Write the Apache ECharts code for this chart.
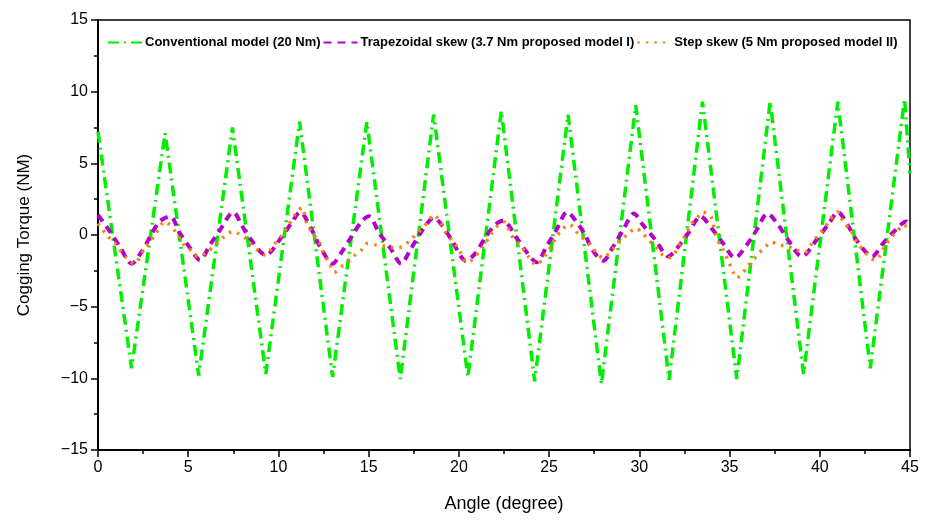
<!DOCTYPE html>
<html>
<head>
<meta charset="utf-8">
<script src="https://cdn.jsdelivr.net/npm/echarts@6/dist/echarts.min.js"></script>
<style>html,body{margin:0;padding:0;background:#fff}#c{width:931px;height:521px}</style>
</head>
<body>
<div id="c"></div>
<script>
// Conventional model (20 Nm): peaks and troughs
const convX = [0, 1.86, 3.72, 5.58, 7.45, 9.3, 11.17, 13.0, 14.9, 16.75, 18.6, 20.5, 22.35, 24.2, 26.05, 27.9, 29.8, 31.65, 33.5, 35.4, 37.25, 39.1, 41.0, 42.8, 44.7, 45];
const convY = [7.2, -9.3, 7.1, -9.8, 7.5, -9.7, 7.9, -9.9, 7.9, -10.05, 8.4, -9.9, 8.65, -10.2, 8.4, -10.4, 9.05, -10.1, 9.3, -10.05, 9.3, -9.7, 9.3, -9.3, 9.5, 4.3];

// Trapezoidal skew (3.7 Nm proposed model I)
const trapX = [0, 0.67, 1.2, 1.87, 2.4, 2.9, 3.4, 4.0, 4.55, 5.1, 5.65, 6.2, 6.76, 7.5, 7.96, 8.4, 9.3, 10.2, 10.7, 11.2, 11.85, 12.3, 13.0, 13.5, 14.06, 14.6, 15.0, 15.6, 16.2, 16.8, 17.3, 17.85, 18.4, 18.6, 19.05, 19.6, 20.4, 20.9, 21.45, 22.0, 22.45, 23.2, 23.76, 24.3, 24.9, 25.4, 26.0, 26.44, 27.0, 27.4, 28.0, 28.55, 29.1, 29.7, 30.2, 30.9, 31.6, 32.1, 32.7, 33.4, 34.0, 34.65, 35.3, 35.95, 36.5, 37.1, 37.7, 38.25, 39.0, 39.9, 40.5, 41.0, 41.6, 42.1, 42.9, 43.5, 44.2, 44.8, 45];
const trapY = [1.4, 0.23, -0.8, -2.0, -1.2, -0.1, 0.93, 1.3, 0.1, -0.9, -1.75, -0.7, 0.35, 1.6, 0.7, -0.2, -1.4, -0.1, 0.8, 1.6, 0.35, -0.8, -2.0, -1.2, -0.1, 0.93, 1.3, 0.1, -0.9, -2.0, -1.05, 0.1, 1.05, 1.2, 0.7, -0.35, -1.8, -1.3, -0.2, 0.7, 1.0, -0.2, -1.2, -1.9, -0.7, 0.35, 1.6, 1.05, 0.0, -1.05, -1.8, -0.8, 0.35, 1.5, 0.7, -0.35, -1.5, -0.9, 0.1, 1.3, 0.47, -0.6, -1.6, -0.7, 0.35, 1.5, 0.7, -0.35, -1.5, -0.2, 0.8, 1.6, 0.58, -0.47, -1.5, -0.6, 0.35, 0.95, 0.7];

// Step skew (5 Nm proposed model II)
const stepX = [0, 0.55, 0.95, 1.5, 2.0, 2.6, 3.16, 3.7, 4.36, 4.7, 5.3, 5.5, 5.9, 6.6, 7.0, 7.5, 7.77, 8.15, 8.5, 9.0, 9.26, 9.8, 10.2, 10.46, 10.9, 11.3, 11.57, 11.85, 12.3, 12.5, 12.8, 13.1, 13.5, 13.86, 14.25, 14.6, 14.9, 15.45, 16.0, 16.5, 16.9, 17.3, 17.6, 17.95, 18.3, 18.6, 18.96, 19.3, 19.7, 19.95, 20.2, 20.4, 20.7, 21.3, 21.8, 22.2, 22.5, 22.9, 23.3, 23.6, 23.85, 24.3, 24.6, 24.9, 25.2, 25.45, 25.7, 25.98, 26.3, 26.6, 27.0, 27.3, 27.6, 28.0, 28.3, 28.66, 29.0, 29.4, 29.8, 30.1, 30.5, 30.9, 31.2, 31.6, 31.9, 32.15, 32.4, 32.6, 32.9, 33.2, 33.5, 34.0, 34.2, 34.4, 34.65, 35.0, 35.2, 35.4, 35.7, 36.0, 36.3, 36.6, 37.0, 37.3, 37.8, 38.25, 38.7, 39.2, 39.5, 39.8, 40.1, 40.5, 40.75, 41.0, 41.3, 41.7, 42.05, 42.4, 42.8, 43.1, 43.35, 43.6, 44.0, 44.3, 44.6, 45];
const stepY = [0.8, -0.1, -0.6, -1.5, -2.0, -0.9, 0.0, 0.93, 0.13, -0.6, -1.2, -1.5, -1.3, -0.6, -0.1, 0.25, 0.1, -0.2, -0.7, -1.2, -1.4, -0.6, 0.0, 0.47, 1.4, 1.9, 0.8, 0.2, -0.6, -1.3, -1.9, -2.6, -2.2, -1.9, -1.4, -1.05, -0.6, -0.7, -0.8, -0.9, -0.8, -0.35, 0.0, 0.47, 0.93, 1.4, 0.93, 0.1, -0.5, -0.9, -1.5, -1.9, -1.75, -0.9, 0.1, 0.7, 0.9, 0.0, -0.6, -1.05, -1.5, -2.1, -1.75, -1.2, -0.6, 0.0, 0.23, 0.7, 0.6, 0.1, -0.35, -0.7, -1.2, -1.6, -1.3, -0.8, -0.35, 0.1, 0.47, 0.23, -0.35, -0.8, -1.3, -1.6, -1.4, -0.8, -0.35, 0.1, 0.8, 1.2, 1.6, 1.2, 0.1, -0.5, -1.05, -2.0, -2.6, -3.0, -2.7, -2.2, -1.75, -1.3, -0.8, -0.5, -0.7, -0.8, -1.05, -1.2, -0.7, -0.2, 0.23, 0.93, 1.4, 1.6, 0.93, 0.35, -0.47, -1.05, -1.6, -1.75, -1.4, -0.8, -0.1, 0.23, 0.7, 0.5];

const seriesNames = ['Conventional model (20 Nm)', 'Trapezoidal skew (3.7 Nm proposed model I)', 'Step skew (5 Nm proposed model II)'];

const zip = (xs, ys) => xs.map((x, i) => [x, ys[i]]);
const minus = v => String(v).replace('-', '\u2212');
const font = 'Liberation Sans, Arial, sans-serif';

const chart = echarts.init(document.getElementById('c'), null, {renderer: 'canvas'});
chart.setOption({
  animation: false,
  backgroundColor: '#fff',
  grid: {left: 98, right: 21, top: 20, bottom: 71, show: true, borderColor: '#000', borderWidth: 1.5, backgroundColor: 'transparent'},
  legend: {
    left: 102, top: 31, itemWidth: 34, itemHeight: 12, itemGap: 2,
    itemStyle: {opacity: 0, borderWidth: 0},
    textStyle: {fontFamily: 'Liberation Sans Narrow, Arial Narrow, Liberation Sans, sans-serif', fontWeight: 'bold', fontSize: 13, color: '#000', padding: [0, 0, 0, -2]},
    data: seriesNames
  },
  xAxis: {
    type: 'value', min: 0, max: 45, interval: 5,
    name: 'Angle (degree)', nameLocation: 'middle', nameGap: 45,
    nameTextStyle: {fontFamily: font, fontSize: 18, color: '#000'},
    axisLine: {show: true, onZero: false, lineStyle: {color: '#000', width: 2}},
    axisTick: {show: true, length: 7, lineStyle: {color: '#000', width: 1.5}},
    minorTick: {show: true, splitNumber: 2, length: 4, lineStyle: {color: '#000', width: 1.5}},
    axisLabel: {fontFamily: font, fontSize: 16, color: '#000', margin: 10},
    splitLine: {show: false}
  },
  yAxis: {
    type: 'value', min: -15, max: 15, interval: 5,
    name: 'Cogging Torque (NM)', nameLocation: 'middle', nameGap: 65,
    nameTextStyle: {fontFamily: font, fontSize: 17, color: '#000'},
    axisLine: {show: true, onZero: false, lineStyle: {color: '#000', width: 2}},
    axisTick: {show: true, length: 7, lineStyle: {color: '#000', width: 1.5}},
    minorTick: {show: true, splitNumber: 2, length: 4, lineStyle: {color: '#000', width: 1.5}},
    axisLabel: {fontFamily: font, fontSize: 16, color: '#000', margin: 10, formatter: minus},
    splitLine: {show: false}
  },
  series: [
    {
      name: seriesNames[0], type: 'line', data: zip(convX, convY), showSymbol: false, symbol: 'none',
      lineStyle: {color: '#00ee00', width: 3.5, type: [11, 5, 2, 5]}, itemStyle: {color: '#00ee00'}, z: 2
    },
    {
      name: seriesNames[1], type: 'line', data: zip(trapX, trapY), showSymbol: false, symbol: 'none', smooth: 0.3,
      lineStyle: {color: '#b400c8', width: 4, type: [8, 6]}, itemStyle: {color: '#b400c8'}, z: 3
    },
    {
      name: seriesNames[2], type: 'line', data: zip(stepX, stepY), showSymbol: false, symbol: 'none', smooth: 0.3,
      lineStyle: {color: '#ff7f0e', width: 3.5, type: [2.5, 6]}, itemStyle: {color: '#ff7f0e'}, z: 4
    }
  ]
});
</script>
</body>
</html>
